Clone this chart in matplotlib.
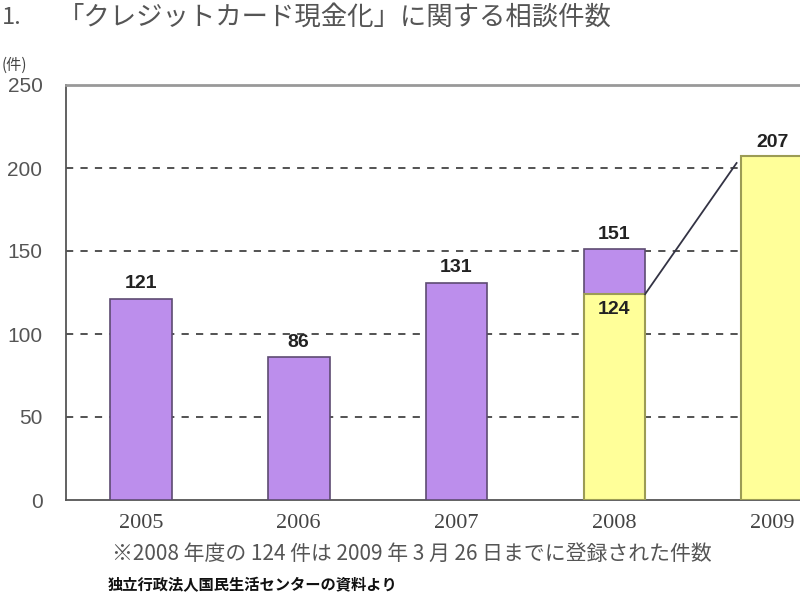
import matplotlib
matplotlib.use("Agg")
import matplotlib.pyplot as plt

plt.rcParams['font.family'] = ['Noto Sans CJK JP', 'DejaVu Sans']

years = ["2005", "2006", "2007", "2008", "2009"]
purple_vals = [121, 86, 131, 151, None]
yellow_vals = [None, None, None, 124, 207]
yticks = [0, 50, 100, 150, 200, 250]
title_num = "1."
title = "「クレジットカード現金化」に関する相談件数"
unit = "(件)"
note = "※2008 年度の 124 件は 2009 年 3 月 26 日までに登録された件数"
source = "独立行政法人国民生活センターの資料より"

PURPLE = "#BC8EEC"
PURPLE_EDGE = "#5E4B72"
YELLOW = "#FFFF99"
YELLOW_EDGE = "#9C9C55"

fig = plt.figure(figsize=(8, 6), dpi=100)
W, H = 800, 600
ax = fig.add_axes([66 / W, 1 - 500 / H, (835 - 66) / W, (500 - 85) / H])

x = list(range(len(years)))
bw = 0.39

for i in x:
    pv = purple_vals[i]
    yv = yellow_vals[i]
    if pv is not None:
        ax.bar(i, pv, width=bw, color=PURPLE, edgecolor=PURPLE_EDGE, linewidth=1.2, zorder=3)
    if yv is not None:
        ax.bar(i, yv, width=bw, color=YELLOW, edgecolor=YELLOW_EDGE, linewidth=1.5, zorder=3)

lab_kw = dict(fontsize=14, fontweight='bold', family='Liberation Sans', color='#222222', zorder=5)
for i in range(4):
    ax.text(i, purple_vals[i] + 4, str(purple_vals[i]), ha='center', va='bottom', **lab_kw)
ax.text(3, yellow_vals[3] - 4, str(yellow_vals[3]), ha='center', va='top', **lab_kw)
ax.text(4, yellow_vals[4] + 3, str(yellow_vals[4]), ha='center', va='bottom', **lab_kw)

# connecting line
ax.plot([3 + bw / 2, 4 - bw / 2 - 0.03], [yellow_vals[3], yellow_vals[4] - 4], color='#333344',
        linewidth=1.3, zorder=4)

ax.set_ylim(0, 250)
ax.set_xlim(-0.475, 4 + (835 - 772) / 158)
ax.set_yticks(yticks)
ax.set_yticklabels([str(t) for t in yticks], fontsize=15, family='Liberation Sans', color='#555555')
ax.tick_params(axis='y', length=0, pad=17)
ax.set_xticks(x)
ax.set_xticklabels(years, fontsize=16, family='Liberation Serif', color='#444444')
ax.tick_params(axis='x', length=0, pad=10)

for t in [50, 100, 150, 200]:
    ax.axhline(t, color='#444444', linestyle=(0, (4, 4)), linewidth=1.3, zorder=1)

ax.spines['left'].set_color('#555555')
ax.spines['left'].set_linewidth(1.3)
ax.spines['bottom'].set_color('#555555')
ax.spines['bottom'].set_linewidth(1.3)
ax.spines['top'].set_color('#999999')
ax.spines['top'].set_linewidth(2)
ax.spines['right'].set_visible(False)

fig.text(2 / W, 1 - 17 / H, title_num, ha='left', va='center', fontsize=17, color='#555555')
fig.text(58 / W, 1 - 17 / H, title, ha='left', va='center', fontsize=19, color='#555555')
fig.text(2 / W, 1 - 65 / H, unit, ha='left', va='center', fontsize=11, color='#444444')
fig.text(112 / W, 1 - 554 / H, note, ha='left', va='center', fontsize=15, color='#555555')
fig.text(108 / W, 1 - 585 / H, source, ha='left', va='center', fontsize=11, fontweight='bold',
         color='#111111')

fig.savefig("out.png", dpi=100)
